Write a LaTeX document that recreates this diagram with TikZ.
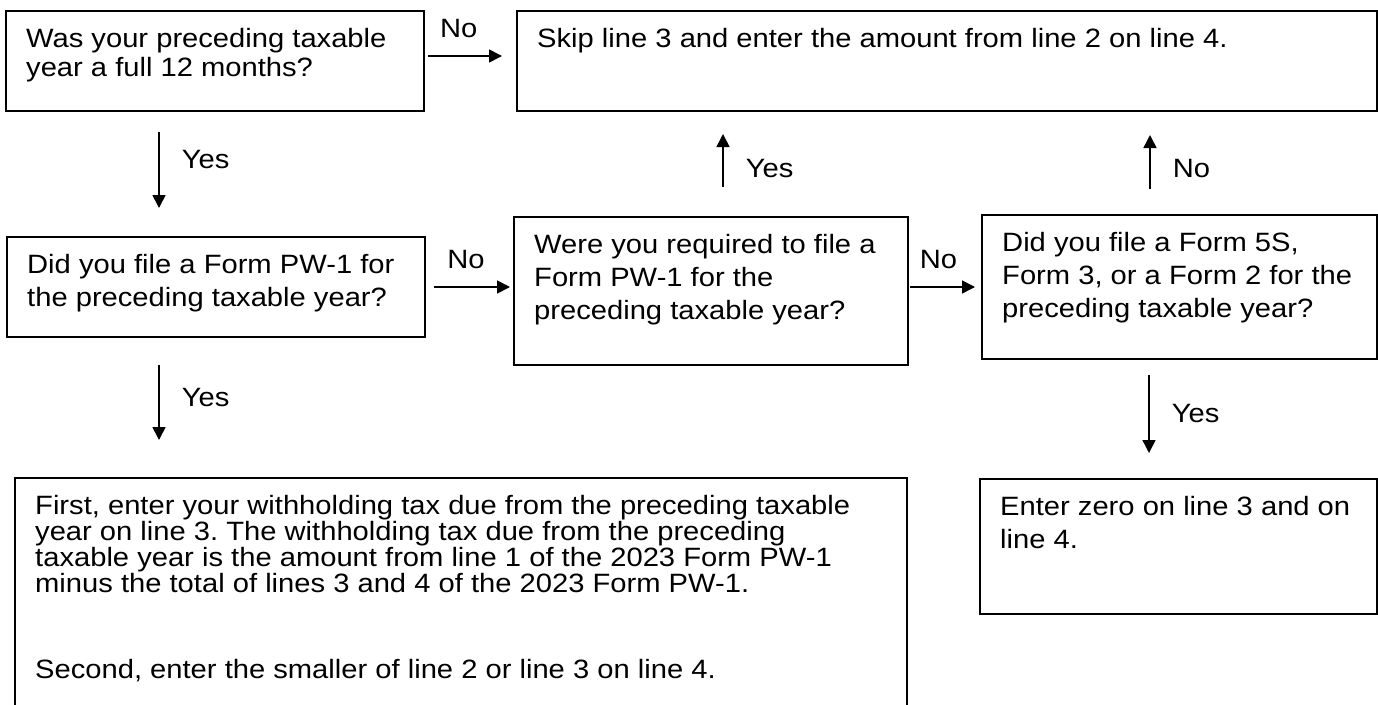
\documentclass[tikz,border=0pt]{standalone}
\usepackage{fontspec}
\setmainfont{Liberation Sans}[FakeStretch=1.1]
\usetikzlibrary{arrows.meta}
\frenchspacing

\begin{document}
\begin{tikzpicture}[x=1pt,y=-1pt]
\tikzstyle{box}=[draw, line width=2pt, anchor=north west, inner sep=0pt]
\tikzstyle{txt}=[anchor=north west, align=left, inner sep=0pt, font=\fontsize{26.5}{33}\selectfont]
\tikzstyle{lbl}=[inner sep=0pt, font=\fontsize{26.5}{33}\selectfont]
\tikzstyle{arr}=[-{Triangle[length=13pt,width=13pt]}, line width=1.6pt]
\useasboundingbox (0,0) rectangle (1378,704);
\begin{scope}
\clip (0,0) rectangle (1378,704);
\node[box, minimum width=418pt, minimum height=100pt] (Q1) at (5,10) {};
\node[box, minimum width=860pt, minimum height=100pt] (R1) at (516,10) {};
\node[box, minimum width=418pt, minimum height=100pt] (Q2) at (6,236) {};
\node[box, minimum width=394pt, minimum height=148pt] (Q3) at (513,216) {};
\node[box, minimum width=395pt, minimum height=144pt] (Q4) at (981,214) {};
\node[box, minimum width=892pt, minimum height=240pt] (R2) at (14,477) {};
\node[box, minimum width=397pt, minimum height=135pt] (R3) at (979,478) {};
\end{scope}
\node[txt, font=\fontsize{26.5}{29}\selectfont] (Q1t) at ([shift={(21pt,-18pt)}]Q1.north west) {Was your preceding taxable\\year a full 12 months?};
\node[txt] (R1t) at ([shift={(21pt,-18pt)}]R1.north west) {Skip line 3 and enter the amount from line 2 on line 4.};
\node[txt] (Q2t) at ([shift={(21pt,-18pt)}]Q2.north west) {Did you file a Form PW-1 for\\the preceding taxable year?};
\node[txt] (Q3t) at ([shift={(21pt,-18pt)}]Q3.north west) {Were you required to file a\\Form PW-1 for the\\preceding taxable year?};
\node[txt] (Q4t) at ([shift={(21pt,-18pt)}]Q4.north west) {Did you file a Form 5S,\\Form 3, or a Form 2 for the\\preceding taxable year?};
\node[txt, font={\fontsize{26.5}{26}\selectfont\lineskiplimit=-20pt\relax}] (R2t) at ([shift={(21pt,-18pt)}]R2.north west) {First, enter your withholding tax due from the preceding taxable\\year on line 3. The withholding tax due from the preceding\\taxable year is the amount from line 1 of the 2023 Form PW-1\\minus the total of lines 3 and 4 of the 2023 Form PW-1.\\[60pt]Second, enter the smaller of line 2 or line 3 on line 4.};
\node[txt] (R3t) at ([shift={(21pt,-18pt)}]R3.north west) {Enter zero on line 3 and on\\line 4.};
\draw[arr, shorten <=3pt, shorten >=14pt] ([yshift=5pt]Q1.east) -- ([yshift=5pt]Q1.east -| R1.west) node[lbl, above=17pt, pos=0.37] (n1) {No};
\draw[arr, shorten <=20pt, shorten >=28pt] ([xshift=-56pt]Q1.south) -- ([xshift=-56pt]Q1.south |- Q2.north) node[lbl, right=22pt, pos=0.38] (y1) {Yes};
\draw[arr, shorten <=8pt, shorten >=3pt] (Q2.east) -- (Q2.east -| Q3.west) node[lbl, above=17pt, pos=0.46] (n2) {No};
\draw[arr, shorten <=27pt, shorten >=37pt] ([xshift=-57pt]Q2.south) -- ([xshift=-57pt]Q2.south |- R2.north) node[lbl, right=22pt, pos=0.43] (y2) {Yes};
\draw[arr, shorten <=29pt, shorten >=22pt] ([xshift=12pt]Q3.north) -- ([xshift=12pt]Q3.north |- R1.south) node[lbl, right=22pt, pos=0.46] (y3) {Yes};
\draw[arr, shorten <=1pt, shorten >=6pt] ([yshift=4pt]Q3.east) -- ([yshift=4pt]Q3.east -| Q4.west) node[lbl, above=17pt, pos=0.41] (n3) {No};
\draw[arr, shorten <=25pt, shorten >=23pt] ([xshift=-29.5pt]Q4.north) -- ([xshift=-29.5pt]Q4.north |- R1.south) node[lbl, right=22pt, pos=0.45] (n4) {No};
\draw[arr, shorten <=15pt, shorten >=25pt] ([xshift=-30.5pt]Q4.south) -- ([xshift=-30.5pt]Q4.south |- R3.north) node[lbl, right=22pt, pos=0.45] (y4) {Yes};
\end{tikzpicture}
\end{document}
